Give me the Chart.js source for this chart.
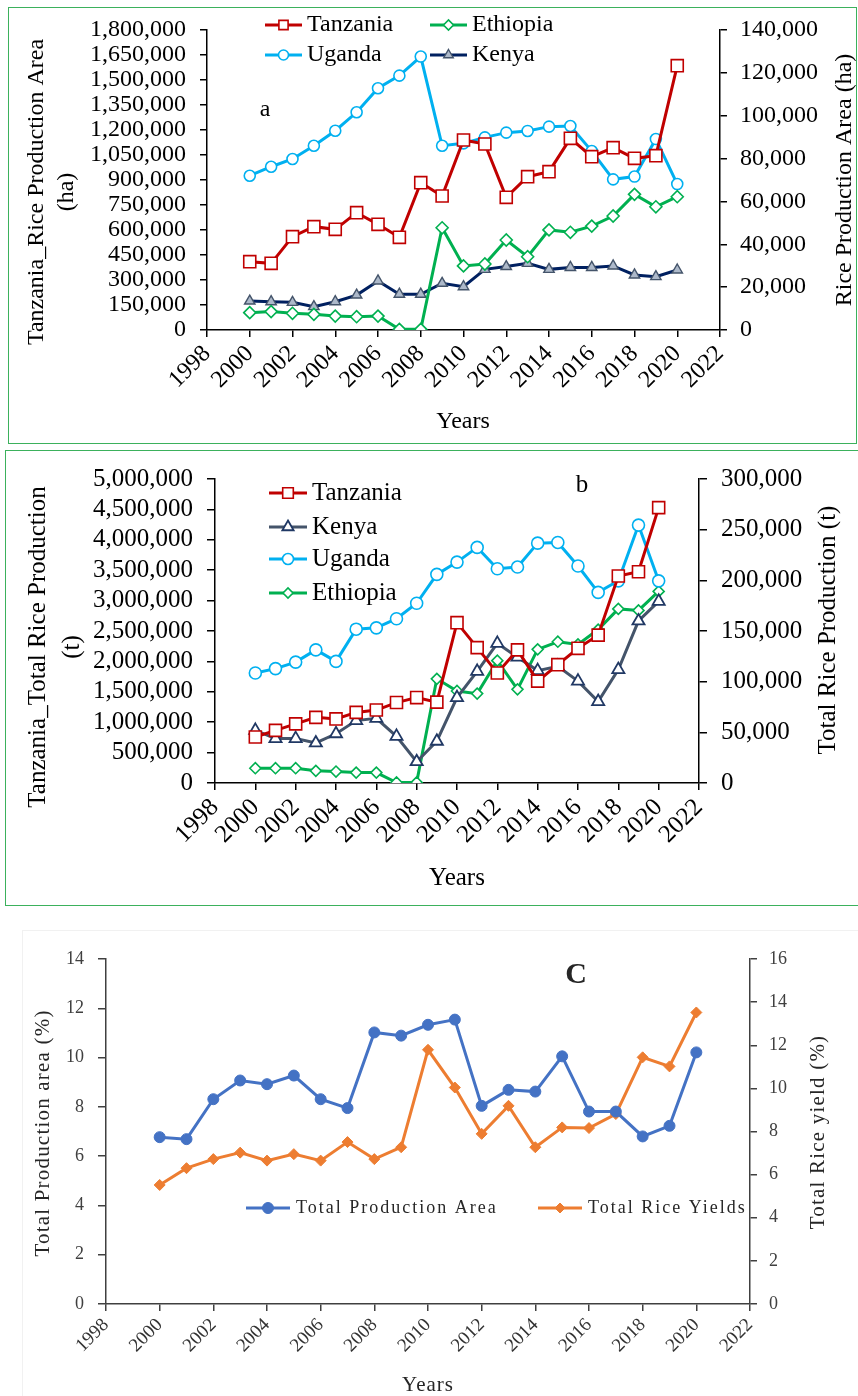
<!DOCTYPE html>
<html>
<head>
<meta charset="utf-8">
<script src="https://cdn.jsdelivr.net/npm/chart.js@4.4.1/dist/chart.umd.min.js"></script>
<style>
  html, body { margin: 0; padding: 0; background: #fff; }
  body { width: 858px; height: 1396px; position: relative; overflow: hidden; }
  .frame { position: absolute; box-sizing: border-box; }
  canvas { position: absolute; left: 0; }
</style>
</head>
<body>
<div class="frame" style="left:8px;top:7px;width:849px;height:437px;border:1.5px solid #3bb15c"></div>
<div class="frame" style="left:5px;top:450px;width:860px;height:456px;border:1.5px solid #3bb15c"></div>
<div class="frame" style="left:22px;top:930px;width:850px;height:480px;border:1px solid #f1f1f1"></div>
<canvas id="chartA" width="858" height="445" style="top:0px"></canvas>
<canvas id="chartB" width="858" height="455" style="top:450px"></canvas>
<canvas id="chartC" width="858" height="481" style="top:915px"></canvas>
<script>
// ---- Years on the horizontal axis ----
const years = [2000, 2001, 2002, 2003, 2004, 2005, 2006, 2007, 2008, 2009, 2010,
               2011, 2012, 2013, 2014, 2015, 2016, 2017, 2018, 2019, 2020];
const yearAxisMin = 1998;
const yearAxisMax = 2022;

// ---- (a) Rice production area, ha ----
const areaTanzania = [410000, 400000, 560000, 620000, 604000, 704000, 634000, 556000, 884000, 804000, 1140000,
                      1116000, 796000, 920000, 950000, 1150000, 1040000, 1094000, 1030000, 1046000, 1586000];
const areaUganda   = [72000, 76200, 79800, 86000, 93000, 101600, 112800, 118700, 127600, 86000, 87100,
                      89900, 92100, 92900, 94900, 95200, 83500, 70300, 71600, 89100, 68100];
const areaEthiopia = [8100, 8600, 7800, 7300, 6500, 6200, 6500, 300, 300, 47700, 29900,
                      30800, 42000, 34200, 46700, 45600, 48500, 53200, 63300, 57500, 62200];
const areaKenya    = [13500, 13200, 12900, 10900, 13200, 16300, 22900, 16700, 16700, 21800, 20200,
                      28300, 29600, 31100, 28300, 29200, 29200, 29900, 25700, 24900, 28000];

// ---- (b) Total rice production, t ----
const prodTanzania = [756000, 865000, 973000, 1080000, 1054000, 1161000, 1200000, 1323000, 1405000, 1330000, 2637000,
                      2227000, 1810000, 2189000, 1675000, 1946000, 2215000, 2432000, 3405000, 3475000, 4529000];
const prodKenya    = [51900, 43800, 43800, 39500, 48600, 61600, 63800, 46000, 21000, 41200, 84300,
                      110200, 137800, 124200, 110900, 115100, 100500, 80400, 111900, 159900, 179300];
const prodUganda   = [108600, 112900, 119300, 131400, 120000, 151800, 153100, 162100, 177400, 205900, 218000,
                      232500, 211400, 213100, 236700, 237400, 214100, 188100, 199500, 254500, 199500];
const prodEthiopia = [14600, 14600, 14600, 12000, 11300, 10300, 10300, 500, 600, 102800, 90800,
                      88200, 120700, 92400, 131900, 139400, 136800, 151400, 171800, 170300, 189100];

// ---- (c) Shares, % ----
const shareArea  = [6.77, 6.69, 8.31, 9.07, 8.92, 9.27, 8.31, 7.95, 11.02, 10.89, 11.33,
                    11.54, 8.04, 8.69, 8.62, 10.05, 7.81, 7.81, 6.80, 7.23, 10.21];
const shareYield = [5.52, 6.30, 6.72, 7.02, 6.65, 6.95, 6.65, 7.51, 6.72, 7.27, 11.79,
                    10.04, 7.89, 9.19, 7.27, 8.19, 8.16, 8.81, 11.44, 11.02, 13.52];

const SERIF = '"Liberation Serif", "Times New Roman", serif';

// Free-standing captions (axis titles, panel letters)
function captions(items) {
  return {
    id: 'captions',
    afterDraw(chart) {
      const ctx = chart.ctx;
      items.forEach(t => {
        ctx.save();
        ctx.translate(t.x, t.y);
        if (t.rotate) ctx.rotate(t.rotate * Math.PI / 180);
        ctx.font = t.font;
        ctx.fillStyle = t.color || '#000';
        ctx.textAlign = 'center';
        ctx.textBaseline = 'middle';
        if (t.spacing) ctx.letterSpacing = t.spacing + 'px';
        ctx.fillText(t.text, 0, 0);
        ctx.restore();
      });
    }
  };
}

// Series key placed freely inside the plot, styled from each dataset
function seriesKey(spec) {
  return {
    id: 'seriesKey',
    afterDraw(chart) {
      const ctx = chart.ctx;
      spec.items.forEach(it => {
        const ds = chart.data.datasets[it.dataset];
        const mid = it.x + spec.lineLength / 2;
        ctx.save();
        ctx.strokeStyle = ds.borderColor;
        ctx.lineWidth = ds.borderWidth;
        ctx.beginPath();
        ctx.moveTo(it.x, it.y);
        ctx.lineTo(it.x + spec.lineLength, it.y);
        ctx.stroke();
        ctx.fillStyle = ds.pointBackgroundColor;
        ctx.strokeStyle = ds.pointBorderColor;
        ctx.lineWidth = ds.pointBorderWidth;
        Chart.helpers.drawPoint(ctx, {
          pointStyle: ds.pointStyle, rotation: 0,
          radius: spec.markerRadius[it.dataset], borderWidth: ds.pointBorderWidth
        }, mid, it.y);
        ctx.font = spec.font;
        ctx.fillStyle = spec.color || '#000';
        ctx.textAlign = 'left';
        ctx.textBaseline = 'middle';
        if (spec.spacing) ctx.letterSpacing = spec.spacing + 'px';
        ctx.fillText(ds.label, it.x + spec.lineLength + spec.gap, it.y);
        ctx.restore();
      });
    }
  };
}

// Axis builders; box sizes pin the plot rectangle
function yearAxis(boxHeight, fontSize, color, tickLen, pad, lw) {
  return {
    type: 'linear', min: yearAxisMin, max: yearAxisMax,
    afterFit: s => { s.height = boxHeight; },
    ticks: {
      stepSize: 2, autoSkip: false, minRotation: 45, maxRotation: 45, padding: pad,
      color: color, font: { family: SERIF, size: fontSize }, callback: v => String(v)
    },
    grid: { drawOnChartArea: false, drawTicks: true, tickLength: tickLen, color: color, lineWidth: lw },
    border: { display: true, color: color, width: lw }
  };
}
function valueAxis(position, boxWidth, max, step, fontSize, color, tickLen, pad, lw) {
  return {
    type: 'linear', position: position, min: 0, max: max,
    afterFit: s => { s.width = boxWidth; },
    ticks: { stepSize: step, autoSkip: false, padding: pad, color: color, font: { family: SERIF, size: fontSize } },
    grid: { drawOnChartArea: false, drawTicks: true, tickLength: tickLen, color: color, lineWidth: lw },
    border: { display: true, color: color, width: lw }
  };
}
function series(label, data, axis, line, style, radius, fill, edge, edgeWidth) {
  return {
    label: label, data: data, yAxisID: axis,
    borderColor: line, borderWidth: 3, tension: 0, fill: false,
    pointStyle: style, pointRadius: radius, pointHoverRadius: radius,
    pointBackgroundColor: fill, pointBorderColor: edge, pointBorderWidth: edgeWidth
  };
}
const baseOptions = (padTop) => ({
  responsive: false, animation: false, events: [],
  layout: { padding: { top: padTop, left: 0, right: 0, bottom: 0 } },
  plugins: { legend: { display: false }, tooltip: { enabled: false } }
});

// ---------- Panel a ----------
{
  const opts = baseOptions(30);
  opts.scales = {
    x: yearAxis(445 - 330, 24, '#000', 7, 3, 1.5),
    y: valueAxis('left', 207, 1800000, 150000, 24, '#000', 7, 14, 1.5),
    y1: valueAxis('right', 858 - 720, 140000, 20000, 24, '#000', 7, 13, 1.5)
  };
  new Chart(document.getElementById('chartA'), {
    type: 'line',
    data: {
      labels: years,
      datasets: [
        series('Tanzania', areaTanzania, 'y', '#c00000', 'rect', 8.5, '#fff', '#c00000', 1.6),
        series('Ethiopia', areaEthiopia, 'y1', '#00b050', 'rectRot', 6, '#fff', '#00b050', 1.6),
        series('Uganda', areaUganda, 'y1', '#00b0f0', 'circle', 5.5, '#fff', '#00b0f0', 1.6),
        series('Kenya', areaKenya, 'y1', '#002060', 'triangle', 6, '#adb9ca', '#44546a', 1.4)
      ]
    },
    options: opts,
    plugins: [
      seriesKey({
        lineLength: 37, gap: 5, font: '24px ' + SERIF,
        markerRadius: [6.5, 5, 5, 5.5],
        items: [
          { dataset: 0, x: 265, y: 25 }, { dataset: 1, x: 430, y: 25 },
          { dataset: 2, x: 265, y: 55 }, { dataset: 3, x: 430, y: 55 }
        ]
      }),
      captions([
        { text: 'Tanzania_Rice Production Area', x: 37, y: 192, rotate: -90, font: '24px ' + SERIF },
        { text: '(ha)', x: 67, y: 192, rotate: -90, font: '24px ' + SERIF },
        { text: 'Rice Production Area (ha)', x: 845, y: 180, rotate: -90, font: '24px ' + SERIF },
        { text: 'a', x: 265, y: 110, font: '24px ' + SERIF },
        { text: 'Years', x: 463, y: 422, font: '24px ' + SERIF }
      ])
    ]
  });
}

// ---------- Panel b ----------
{
  const opts = baseOptions(25);
  opts.scales = {
    x: yearAxis(455 - 333, 25, '#000', 7, 3, 1.5),
    y: valueAxis('left', 215, 5000000, 500000, 25, '#000', 8, 14, 1.5),
    y1: valueAxis('right', 858 - 699, 300000, 50000, 25, '#000', 8, 14, 1.5)
  };
  new Chart(document.getElementById('chartB'), {
    type: 'line',
    data: {
      labels: years,
      datasets: [
        series('Tanzania', prodTanzania, 'y', '#c00000', 'rect', 8.5, '#fff', '#c00000', 1.6),
        series('Kenya', prodKenya, 'y1', '#44546a', 'triangle', 7, '#fff', '#203864', 1.8),
        series('Uganda', prodUganda, 'y1', '#00b0f0', 'circle', 6, '#fff', '#00b0f0', 1.6),
        series('Ethiopia', prodEthiopia, 'y1', '#00b050', 'rectRot', 5.5, '#fff', '#00b050', 1.6)
      ]
    },
    options: opts,
    plugins: [
      seriesKey({
        lineLength: 38, gap: 5, font: '25px ' + SERIF,
        markerRadius: [7.5, 6.5, 5.5, 5],
        items: [
          { dataset: 0, x: 269, y: 43 }, { dataset: 1, x: 269, y: 77 },
          { dataset: 2, x: 269, y: 109 }, { dataset: 3, x: 269, y: 143 }
        ]
      }),
      captions([
        { text: 'Tanzania_Total Rice Production', x: 38, y: 197, rotate: -90, font: '25px ' + SERIF },
        { text: '(t)', x: 72, y: 197, rotate: -90, font: '25px ' + SERIF },
        { text: 'Total Rice Production (t)', x: 828, y: 180, rotate: -90, font: '25px ' + SERIF },
        { text: 'b', x: 582, y: 35, font: '25px ' + SERIF },
        { text: 'Years', x: 457, y: 428, font: '25px ' + SERIF }
      ])
    ]
  });
}

// ---------- Panel c ----------
{
  const grey = '#404040';
  const opts = baseOptions(44);
  opts.scales = {
    x: yearAxis(481 - 389, 19, '#333', 7, 3, 1.5),
    y: valueAxis('left', 106, 14, 2, 18, grey, 8, 14, 1.5),
    y1: valueAxis('right', 858 - 750, 16, 2, 18, grey, 7, 12, 1.5)
  };
  opts.scales.x.grid.color = grey;
  opts.scales.x.border.color = grey;
  new Chart(document.getElementById('chartC'), {
    type: 'line',
    data: {
      labels: years,
      datasets: [
        series('Total Production Area', shareArea, 'y', '#4472c4', 'circle', 5.5, '#4472c4', '#4472c4', 1),
        series('Total Rice Yields', shareYield, 'y1', '#ed7d31', 'rectRot', 5.5, '#ed7d31', '#ed7d31', 1)
      ]
    },
    options: opts,
    plugins: [
      seriesKey({
        lineLength: 44, gap: 6, font: '18px ' + SERIF, color: '#262626', spacing: 2,
        markerRadius: [5.5, 5],
        items: [ { dataset: 0, x: 246, y: 293 }, { dataset: 1, x: 538, y: 293 } ]
      }),
      captions([
        { text: 'C', x: 576, y: 60, font: 'bold 30px ' + SERIF, color: '#262626' },
        { text: 'Total Production area (%)', x: 43, y: 218, rotate: -90, font: '21px ' + SERIF, color: '#262626', spacing: 1.2 },
        { text: 'Total Rice yield (%)', x: 818, y: 217, rotate: -90, font: '21px ' + SERIF, color: '#262626', spacing: 1.2 },
        { text: 'Years', x: 428, y: 470, font: '21px ' + SERIF, color: '#262626', spacing: 1 }
      ])
    ]
  });
}
</script>
</body>
</html>
